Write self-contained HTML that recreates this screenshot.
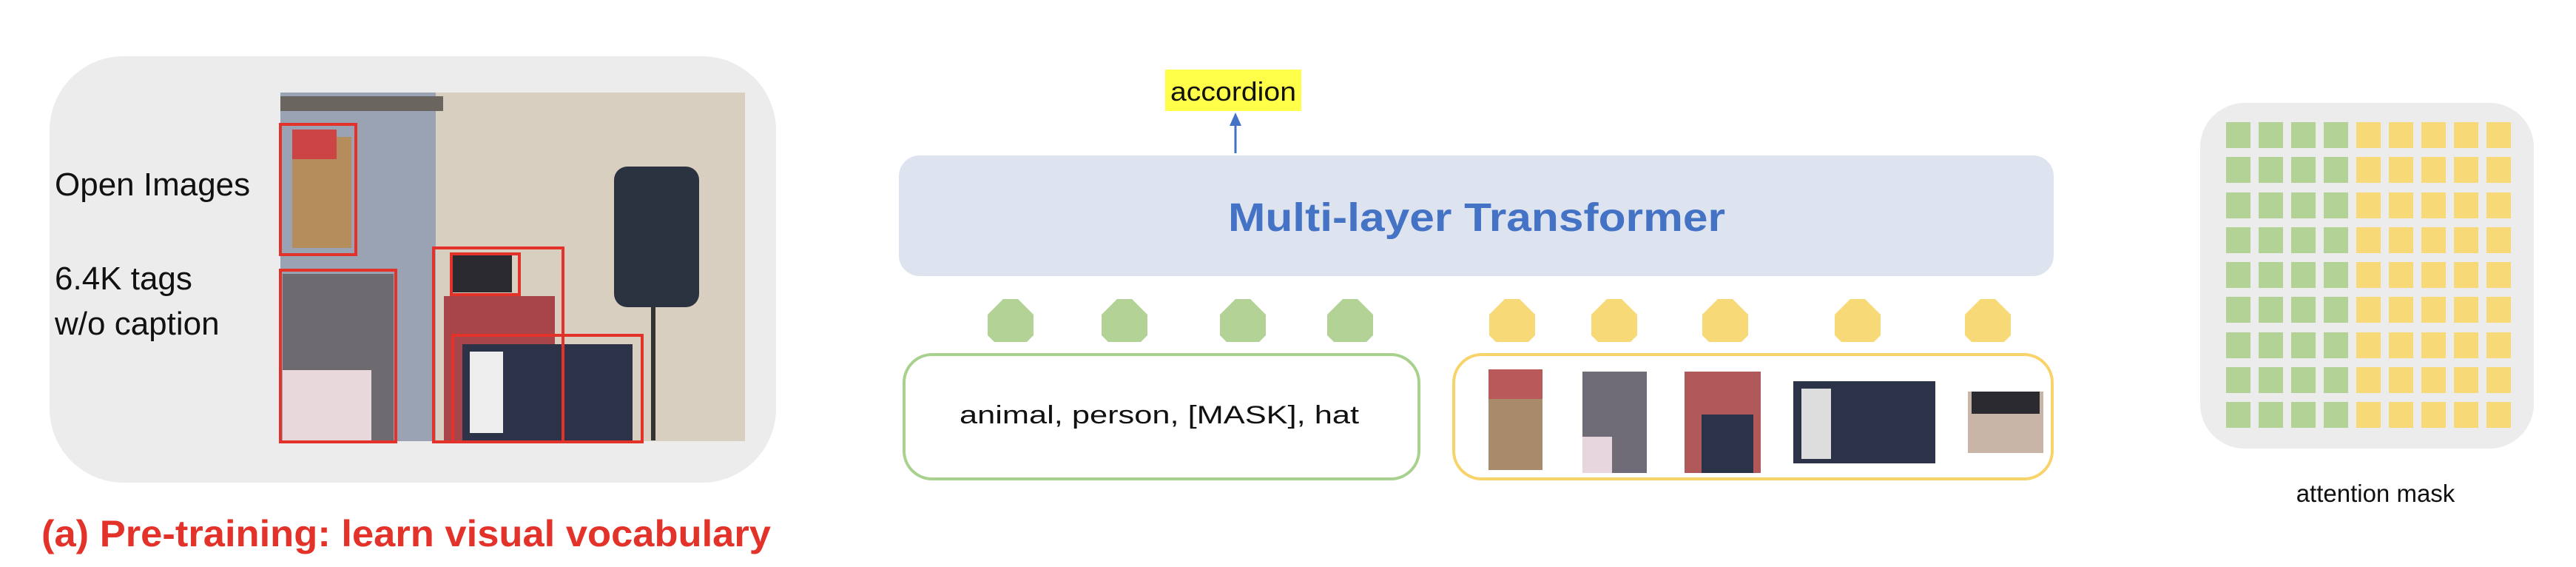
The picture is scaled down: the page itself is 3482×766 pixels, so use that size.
<!DOCTYPE html>
<html><head><meta charset="utf-8"><style>
html,body{margin:0;padding:0;background:#fff;width:3482px;height:766px;overflow:hidden;}
</style></head><body>
<svg width="3482" height="766" viewBox="0 0 3482 766" xmlns="http://www.w3.org/2000/svg" font-family="'Liberation Sans', sans-serif">
<!-- left panel -->
<rect x="67" y="76" width="982" height="576" rx="100" fill="#ececec"/>
<text x="74" y="264" font-size="44" fill="#111">Open Images</text>
<text x="74" y="391" font-size="44" fill="#111">6.4K tags</text>
<text x="74" y="452" font-size="44" fill="#111">w/o caption</text>
<!-- photo -->
<rect x="379" y="125" width="628" height="471" fill="#d9cfc0"/>
<rect x="379" y="125" width="210" height="471" fill="#9aa3b3"/>
<rect x="379" y="130" width="220" height="20" fill="#6b6560"/>
<rect x="395" y="185" width="80" height="150" fill="#b58d5c"/>
<rect x="395" y="175" width="60" height="40" fill="#c44"/>
<rect x="382" y="370" width="150" height="225" fill="#6d6a70"/>
<rect x="382" y="500" width="120" height="95" fill="#e8d8dc"/>
<rect x="830" y="225" width="115" height="190" rx="18" fill="#2b3240"/>
<rect x="880" y="415" width="6" height="180" fill="#333"/>
<rect x="612" y="345" width="80" height="50" fill="#2a2a30"/>
<rect x="600" y="400" width="150" height="195" fill="#a8454a"/>
<rect x="625" y="465" width="230" height="130" fill="#2c3348"/>
<rect x="635" y="475" width="45" height="110" fill="#eee"/>
<text x="1000" y="0" font-size="1" fill="#fff"> </text>
<g fill="none" stroke="#e2322a" stroke-width="4">
<rect x="379" y="168" width="102" height="176"/>
<rect x="379" y="365" width="156" height="232"/>
<rect x="586" y="335" width="175" height="262"/>
<rect x="610" y="343" width="92" height="55"/>
<rect x="612" y="453" width="256" height="144"/>
</g>
<text x="56" y="738" font-size="50" font-weight="bold" fill="#e2322a" textLength="986" lengthAdjust="spacingAndGlyphs">(a) Pre-training: learn visual vocabulary</text>
<!-- accordion -->
<rect x="1575" y="94" width="184" height="56" fill="#ffff4a"/>
<text x="1667" y="136" font-size="36" text-anchor="middle" fill="#111" textLength="170" lengthAdjust="spacingAndGlyphs">accordion</text>
<line x1="1670" y1="207" x2="1670" y2="168" stroke="#4472c4" stroke-width="3"/>
<polygon points="1670,152 1662,170 1678,170" fill="#4472c4"/>
<!-- transformer -->
<rect x="1215" y="210" width="1561" height="163" rx="28" fill="#dde3ef"/>
<text x="1996" y="312" font-size="54" font-weight="bold" text-anchor="middle" fill="#4472c4" textLength="672" lengthAdjust="spacingAndGlyphs">Multi-layer Transformer</text>
<!-- tokens -->
<g fill="#b3d296">
<polygon points="1346,404 1366,404 1387,425 1387,453 1378,462 1334,462 1325,453 1325,425" transform="translate(10,0)"/>
<polygon points="1346,404 1366,404 1387,425 1387,453 1378,462 1334,462 1325,453 1325,425" transform="translate(164,0)"/>
<polygon points="1346,404 1366,404 1387,425 1387,453 1378,462 1334,462 1325,453 1325,425" transform="translate(324,0)"/>
<polygon points="1346,404 1366,404 1387,425 1387,453 1378,462 1334,462 1325,453 1325,425" transform="translate(469,0)"/>
</g>
<g fill="#f8d977">
<polygon points="1346,404 1366,404 1387,425 1387,453 1378,462 1334,462 1325,453 1325,425" transform="translate(688,0)"/>
<polygon points="1346,404 1366,404 1387,425 1387,453 1378,462 1334,462 1325,453 1325,425" transform="translate(826,0)"/>
<polygon points="1346,404 1366,404 1387,425 1387,453 1378,462 1334,462 1325,453 1325,425" transform="translate(976,0)"/>
<polygon points="1346,404 1366,404 1387,425 1387,453 1378,462 1334,462 1325,453 1325,425" transform="translate(1155,0)"/>
<polygon points="1346,404 1366,404 1387,425 1387,453 1378,462 1334,462 1325,453 1325,425" transform="translate(1331,0)"/>
</g>
<rect x="1222" y="479" width="696" height="168" rx="38" fill="#fff" stroke="#a9d18e" stroke-width="4"/>
<text x="1567" y="572" font-size="34" text-anchor="middle" fill="#111" textLength="540" lengthAdjust="spacingAndGlyphs">animal,  person,  [MASK],  hat</text>
<rect x="1965" y="479" width="809" height="168" rx="38" fill="#fff" stroke="#f8d36a" stroke-width="4"/>
<rect x="2012" y="499" width="73" height="136" fill="#a88b6a"/>
<rect x="2012" y="499" width="73" height="40" fill="#b85a5a"/>
<rect x="2139" y="502" width="87" height="137" fill="#6f6c78"/>
<rect x="2139" y="590" width="40" height="49" fill="#e8d6de"/>
<rect x="2277" y="502" width="103" height="137" fill="#b0585a"/>
<rect x="2300" y="560" width="70" height="79" fill="#2c3348"/>
<rect x="2424" y="515" width="192" height="111" fill="#2c3348"/>
<rect x="2435" y="525" width="40" height="95" fill="#ddd"/>
<rect x="2660" y="529" width="102" height="83" fill="#c9b4a8"/>
<rect x="2665" y="529" width="92" height="30" fill="#2a2a30"/>
<!-- attention mask -->
<rect x="2974" y="139" width="451" height="467" rx="60" fill="#ececec"/>
<g id="sq"></g>
<text x="3211" y="678" font-size="33" text-anchor="middle" fill="#111">attention mask</text>
<g>
<!-- 9x9 grid -->
</g>
<script>
</script>
</svg>
<svg width="0" height="0"></svg>
<div style="position:absolute;left:0;top:0;">
<svg width="3482" height="766" style="position:absolute;left:0;top:0">
<g id="grid"></g>
</svg>
</div>
<div style="position:absolute;left:3009px;top:165px;width:400px;height:430px;">
<div style="display:grid;grid-template-columns:repeat(9,33px);grid-template-rows:repeat(9,35px);column-gap:11px;row-gap:12.3px;">
<div style="background:#b3d296"></div><div style="background:#b3d296"></div><div style="background:#b3d296"></div><div style="background:#b3d296"></div><div style="background:#f8d977"></div><div style="background:#f8d977"></div><div style="background:#f8d977"></div><div style="background:#f8d977"></div><div style="background:#f8d977"></div>
<div style="background:#b3d296"></div><div style="background:#b3d296"></div><div style="background:#b3d296"></div><div style="background:#b3d296"></div><div style="background:#f8d977"></div><div style="background:#f8d977"></div><div style="background:#f8d977"></div><div style="background:#f8d977"></div><div style="background:#f8d977"></div>
<div style="background:#b3d296"></div><div style="background:#b3d296"></div><div style="background:#b3d296"></div><div style="background:#b3d296"></div><div style="background:#f8d977"></div><div style="background:#f8d977"></div><div style="background:#f8d977"></div><div style="background:#f8d977"></div><div style="background:#f8d977"></div>
<div style="background:#b3d296"></div><div style="background:#b3d296"></div><div style="background:#b3d296"></div><div style="background:#b3d296"></div><div style="background:#f8d977"></div><div style="background:#f8d977"></div><div style="background:#f8d977"></div><div style="background:#f8d977"></div><div style="background:#f8d977"></div>
<div style="background:#b3d296"></div><div style="background:#b3d296"></div><div style="background:#b3d296"></div><div style="background:#b3d296"></div><div style="background:#f8d977"></div><div style="background:#f8d977"></div><div style="background:#f8d977"></div><div style="background:#f8d977"></div><div style="background:#f8d977"></div>
<div style="background:#b3d296"></div><div style="background:#b3d296"></div><div style="background:#b3d296"></div><div style="background:#b3d296"></div><div style="background:#f8d977"></div><div style="background:#f8d977"></div><div style="background:#f8d977"></div><div style="background:#f8d977"></div><div style="background:#f8d977"></div>
<div style="background:#b3d296"></div><div style="background:#b3d296"></div><div style="background:#b3d296"></div><div style="background:#b3d296"></div><div style="background:#f8d977"></div><div style="background:#f8d977"></div><div style="background:#f8d977"></div><div style="background:#f8d977"></div><div style="background:#f8d977"></div>
<div style="background:#b3d296"></div><div style="background:#b3d296"></div><div style="background:#b3d296"></div><div style="background:#b3d296"></div><div style="background:#f8d977"></div><div style="background:#f8d977"></div><div style="background:#f8d977"></div><div style="background:#f8d977"></div><div style="background:#f8d977"></div>
<div style="background:#b3d296"></div><div style="background:#b3d296"></div><div style="background:#b3d296"></div><div style="background:#b3d296"></div><div style="background:#f8d977"></div><div style="background:#f8d977"></div><div style="background:#f8d977"></div><div style="background:#f8d977"></div><div style="background:#f8d977"></div>
</div></div>
</body></html>
